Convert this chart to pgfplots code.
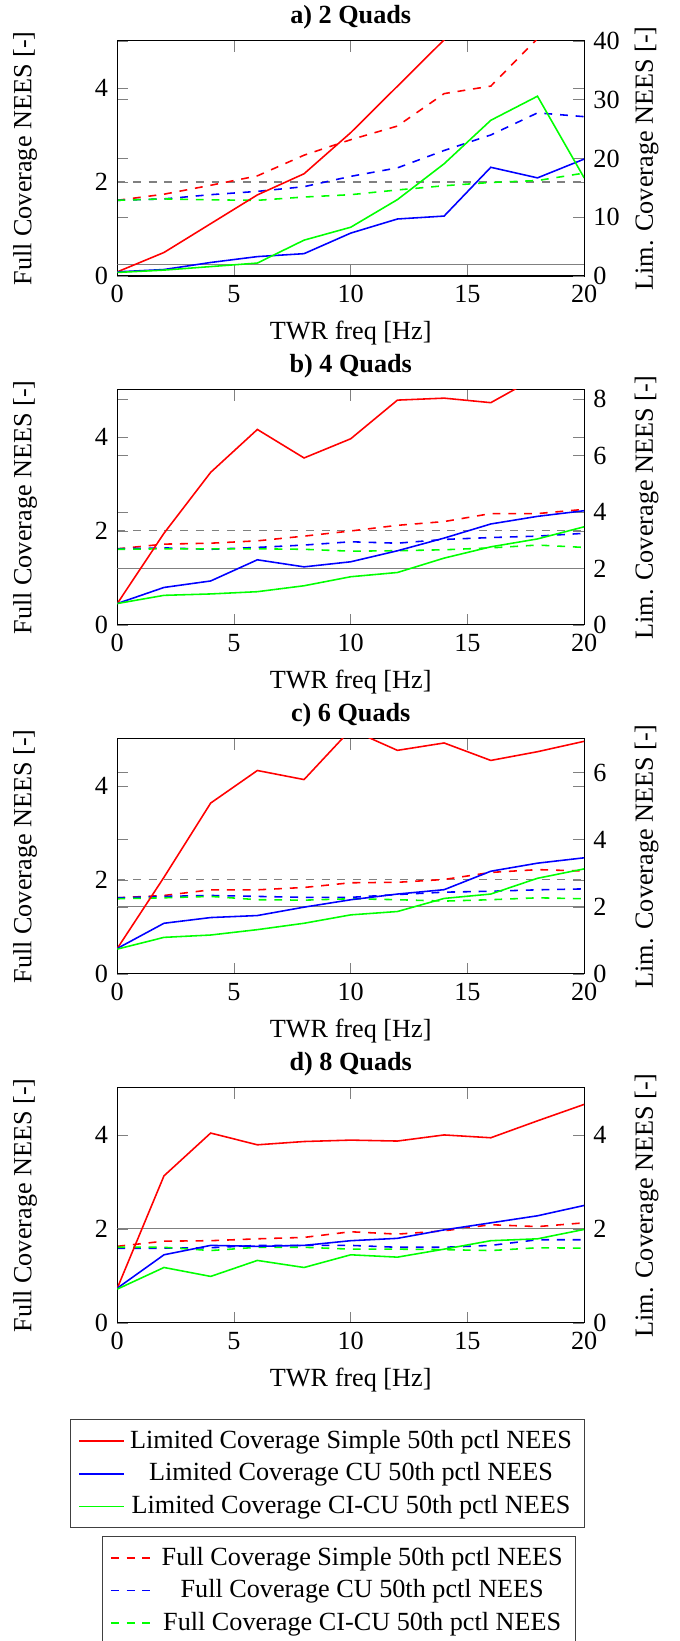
\documentclass[border=0pt]{standalone}
\usepackage{fontspec}
\setmainfont{Liberation Serif}
\usepackage{pgfplots}
\usepackage{pgfplotstable}
\pgfplotsset{compat=1.18}

% columns: x, full-coverage dashed (left axis) r/b/g, limited-coverage solid (right axis) r/b/g
\pgfplotstableread{
x  rd   bd   gd   rs    bs    gs
0  1.61 1.61 1.61 0.7   0.7   0.6
2  1.74 1.64 1.64 4.0   1.1   1.0
4  1.93 1.73 1.62 8.9   2.3   1.6
6  2.13 1.80 1.61 13.8  3.3   2.2
8  2.57 1.90 1.68 17.4  3.8   6.1
10 2.90 2.12 1.73 24.4  7.3   8.3
12 3.19 2.30 1.83 32.3  9.7   13.0
14 3.88 2.67 1.92 40.2  10.2  19.1
16 4.04 3.00 1.99 46.0  18.5  26.5
18 5.05 3.47 2.03 52.0  16.7  30.6
20 5.60 3.39 2.19 58.0  19.9  16.7
}\dataA
\pgfplotstableread{
x  rd   bd   gd   rs    bs    gs
0  1.62 1.62 1.61 0.76  0.76  0.76
2  1.72 1.64 1.62 3.25  1.33  1.05
4  1.74 1.61 1.62 5.41  1.56  1.10
6  1.79 1.65 1.62 6.93  2.31  1.18
8  1.89 1.70 1.61 5.92  2.06  1.39
10 2.00 1.77 1.57 6.60  2.24  1.71
12 2.12 1.74 1.58 7.97  2.63  1.86
14 2.20 1.82 1.60 8.04  3.08  2.37
16 2.37 1.86 1.64 7.88  3.58  2.77
18 2.37 1.89 1.70 8.80  3.85  3.05
20 2.46 1.95 1.65 9.20  4.05  3.48
}\dataB
\pgfplotstableread{
x  rd   bd   gd   rs    bs    gs
0  1.62 1.62 1.60 0.76  0.76  0.74
2  1.67 1.65 1.62 2.88  1.51  1.09
4  1.79 1.67 1.65 5.09  1.68  1.16
6  1.79 1.65 1.58 6.06  1.74  1.32
8  1.84 1.63 1.57 5.79  1.99  1.51
10 1.94 1.63 1.60 7.28  2.21  1.76
12 1.95 1.69 1.58 6.66  2.38  1.86
14 2.01 1.74 1.55 6.88  2.51  2.25
16 2.16 1.76 1.58 6.36  3.06  2.38
18 2.22 1.79 1.62 6.62  3.30  2.85
20 2.19 1.81 1.60 6.93  3.46  3.13
}\dataC
\pgfplotstableread{
x  rd   bd   gd   rs    bs    gs
0  1.63 1.59 1.61 0.74  0.74  0.72
2  1.74 1.59 1.61 3.13  1.45  1.18
4  1.75 1.60 1.54 4.04  1.65  0.99
6  1.79 1.65 1.61 3.79  1.63  1.33
8  1.82 1.65 1.61 3.86  1.65  1.18
10 1.94 1.65 1.57 3.89  1.75  1.45
12 1.89 1.61 1.57 3.87  1.80  1.40
14 1.96 1.61 1.56 4.00  1.98  1.57
16 2.09 1.65 1.54 3.94  2.13  1.75
18 2.05 1.77 1.60 4.30  2.28  1.79
20 2.13 1.77 1.59 4.65  2.50  1.99
}\dataD

\pgfplotsset{
  common/.style={scale only axis, width=178.2pt, height=89.7pt,
    xmin=0, xmax=20, ymin=0, xtick={0,5,10,15,20},
    tick style={gray}, /pgf/number format/assume math mode=true},
  leftax/.style={common, ymax=5, ytick={0,2,4},
    xlabel={TWR freq [Hz]}, ylabel={Full Coverage NEES [-]},
    every axis y label/.style={at={(axis description cs:-0.1975,0.5)},rotate=90,anchor=center},
    every axis title/.style={at={(0.5,1)},anchor=base,yshift=6.5pt,font=\bfseries}},
  rightax/.style={common, hide x axis, yticklabel pos=right,
    ylabel={Lim. Coverage NEES [-]},
    every axis y label/.style={at={(axis description cs:1.1336,0.5)},rotate=90,anchor=center}},
  dl/.style={dashed, semithick},
  sl/.style={semithick},
}

\begin{document}
\begin{tikzpicture}
\useasboundingbox (-44.77pt,-521.0pt) rectangle (214.77pt,105.34pt);

% ---------- a) ----------
\begin{axis}[leftax, at={(0pt,0pt)}, anchor=south west, title={a) 2 Quads}]
\addplot[gray, dashed, forget plot] coordinates {(0,2) (20,2)};
\addplot[dl, red]   table[x=x, y=rd] {\dataA};
\addplot[dl, blue]  table[x=x, y=bd] {\dataA};
\addplot[dl, green] table[x=x, y=gd] {\dataA};
\end{axis}
\begin{axis}[rightax, at={(0pt,0pt)}, anchor=south west, ymax=40, ytick={0,10,20,30,40}]
\addplot[gray, forget plot] coordinates {(0,2) (20,2)};
\addplot[sl, red]   table[x=x, y=rs] {\dataA};
\addplot[sl, blue]  table[x=x, y=bs] {\dataA};
\addplot[sl, green] table[x=x, y=gs] {\dataA};
\end{axis}

% ---------- b) ----------
\begin{axis}[leftax, at={(0pt,-133.2pt)}, anchor=south west, title={b) 4 Quads}]
\addplot[gray, dashed, forget plot] coordinates {(0,2) (20,2)};
\addplot[dl, red]   table[x=x, y=rd] {\dataB};
\addplot[dl, blue]  table[x=x, y=bd] {\dataB};
\addplot[dl, green] table[x=x, y=gd] {\dataB};
\end{axis}
\begin{axis}[rightax, at={(0pt,-133.2pt)}, anchor=south west, ymax=8.33, ytick={0,2,4,6,8}]
\addplot[gray, forget plot] coordinates {(0,2) (20,2)};
\addplot[sl, red]   table[x=x, y=rs] {\dataB};
\addplot[sl, blue]  table[x=x, y=bs] {\dataB};
\addplot[sl, green] table[x=x, y=gs] {\dataB};
\end{axis}

% ---------- c) ----------
\begin{axis}[leftax, at={(0pt,-266.4pt)}, anchor=south west, title={c) 6 Quads}]
\addplot[gray, dashed, forget plot] coordinates {(0,2) (20,2)};
\addplot[dl, red]   table[x=x, y=rd] {\dataC};
\addplot[dl, blue]  table[x=x, y=bd] {\dataC};
\addplot[dl, green] table[x=x, y=gd] {\dataC};
\end{axis}
\begin{axis}[rightax, at={(0pt,-266.4pt)}, anchor=south west, ymax=7, ytick={0,2,4,6}]
\addplot[gray, forget plot] coordinates {(0,2) (20,2)};
\addplot[sl, red]   table[x=x, y=rs] {\dataC};
\addplot[sl, blue]  table[x=x, y=bs] {\dataC};
\addplot[sl, green] table[x=x, y=gs] {\dataC};
\end{axis}

% ---------- d) ----------
\begin{axis}[leftax, at={(0pt,-399.6pt)}, anchor=south west, title={d) 8 Quads},
  legend style={at={(axis description cs:0.475,-0.906)}, anchor=north, draw=black!75},
  legend cell align=center]
\addplot[gray, dashed, forget plot] coordinates {(0,2) (20,2)};
\addplot[dl, red]   table[x=x, y=rd] {\dataD};
\addplot[dl, blue]  table[x=x, y=bd] {\dataD};
\addplot[dl, green] table[x=x, y=gd] {\dataD};
\legend{Full Coverage Simple 50th pctl NEES, Full Coverage CU 50th pctl NEES, Full Coverage CI-CU 50th pctl NEES}
\end{axis}
\begin{axis}[rightax, at={(0pt,-399.6pt)}, anchor=south west, ymax=5, ytick={0,2,4},
  legend style={at={(axis description cs:0.451,-0.409)}, anchor=north, draw=black!75},
  legend cell align=center]
\addplot[gray, forget plot] coordinates {(0,2) (20,2)};
\addplot[sl, red]   table[x=x, y=rs] {\dataD};
\addplot[sl, blue]  table[x=x, y=bs] {\dataD};
\addplot[sl, green] table[x=x, y=gs] {\dataD};
\legend{Limited Coverage Simple 50th pctl NEES, Limited Coverage CU 50th pctl NEES, Limited Coverage CI-CU 50th pctl NEES}
\end{axis}
\end{tikzpicture}
\end{document}
